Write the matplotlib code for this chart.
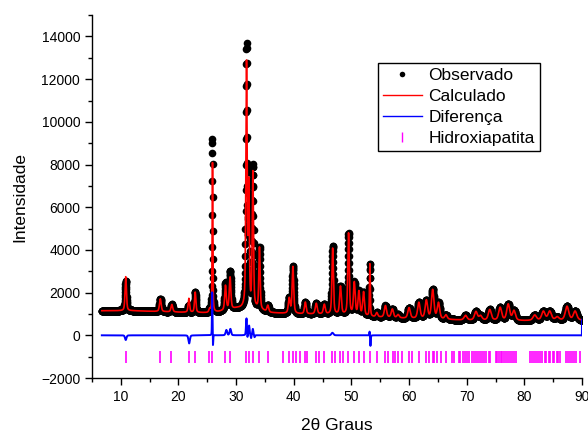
import matplotlib
matplotlib.use('Agg')
import matplotlib.pyplot as plt
from matplotlib.ticker import MultipleLocator
from matplotlib.lines import Line2D
import numpy as np

plt.rcParams['font.family'] = ['Liberation Sans', 'DejaVu Sans']

# 2theta range of the scan
x_start = 6.7
x_end = 90.0
x_step = 0.02

# background anchors (2theta, counts)
bg_x = [6.7, 12, 20, 25, 27, 30, 33, 36, 40, 45, 50, 54, 60, 66, 70, 80, 90]
bg_y = [1150, 1150, 1080, 1050, 1100, 1250, 1250, 1050, 1000, 980, 950, 850, 780, 740, 700, 680, 700]

# calculated peaks: position, height above background, fwhm
peak_pos = [10.85, 16.85, 18.85, 21.8, 22.9, 25.4, 25.9, 28.15, 28.95, 31.8, 32.2, 32.9,
            34.05, 35.5, 39.2, 39.85, 42.0, 43.9, 45.3, 46.75, 48.1, 49.5, 50.5, 51.3,
            52.1, 53.2, 54.4, 55.9, 57.1, 58.1, 60.0, 61.7, 63.0, 64.1, 65.1, 66.4,
            69.8, 71.6, 72.4, 74.0, 75.8, 77.2, 78.2, 81.8, 83.3, 84.4, 85.7, 87.4, 88.8]
peak_h = [1600, 600, 350, 650, 950, 150, 7000, 1150, 1500, 11400, 5500, 6300,
          2900, 300, 700, 2200, 550, 500, 450, 3100, 1300, 3800, 1500, 1100,
          1100, 2450, 200, 550, 400, 150, 500, 750, 850, 1350, 750, 200,
          220, 400, 200, 500, 600, 750, 450, 250, 420, 420, 150, 650, 420]
peak_w = [0.28, 0.35, 0.35, 0.3, 0.28, 0.3, 0.14, 0.32, 0.32, 0.26, 0.22, 0.26,
          0.26, 0.35, 0.35, 0.32, 0.35, 0.4, 0.4, 0.3, 0.35, 0.3, 0.35, 0.35,
          0.35, 0.16, 0.4, 0.45, 0.45, 0.45, 0.5, 0.5, 0.5, 0.5, 0.5, 0.5,
          0.6, 0.6, 0.6, 0.6, 0.6, 0.6, 0.6, 0.7, 0.7, 0.7, 0.7, 0.7, 0.7]

# misfit features seen in the difference curve: position, amplitude, width
diff_pos = [10.85, 21.85, 25.85, 25.98, 28.3, 29.0, 31.8, 31.95, 32.25, 32.6, 32.9, 33.2,
            46.7, 53.15, 53.3]
diff_amp = [-220, -380, 2100, -550, 250, 300, 800, -250, 450, -150, 300, -100,
            120, 200, -500]
diff_w = [0.3, 0.3, 0.1, 0.1, 0.3, 0.3, 0.2, 0.12, 0.2, 0.15, 0.2, 0.15,
          0.4, 0.1, 0.12]

# Bragg reflections of hydroxyapatite
hkl_pos = [10.82, 16.84, 18.78, 21.82, 22.90, 25.35, 25.88, 28.13, 28.97, 31.77, 32.20, 32.90,
           34.05, 35.48, 38.2, 39.2, 39.82, 40.45, 41.0, 42.03, 42.3, 43.8, 44.4, 45.3,
           46.71, 47.1, 48.1, 48.6, 49.47, 50.49, 51.28, 52.1, 53.14, 54.44, 55.88, 56.3,
           57.13, 57.6, 58.07, 58.8, 59.94, 60.46, 61.66, 63.01, 63.5, 64.08, 64.3, 64.93,
           65.5, 66.38, 67.5, 67.8, 68.6, 68.9, 69.3, 69.7, 70.0, 70.4, 70.9, 71.2,
           71.6, 72.0, 72.3, 72.7, 73.0, 73.4, 73.8, 74.1, 75.0, 75.3, 75.6, 75.9,
           76.2, 76.5, 76.8, 77.2, 77.5, 77.9, 78.2, 78.6, 81.0, 81.3, 81.7, 82.0,
           82.4, 82.8, 83.1, 83.5, 83.8, 84.2, 84.5, 84.9, 85.2, 85.6, 85.9, 86.2,
           87.3, 87.6, 87.9, 88.3, 88.6, 89.0, 89.6]
hkl_y = -1000


def pseudoVoigt(x, pos, h, w, eta=0.5):
    d = (x - pos) / (w / 2.0)
    lor = 1.0 / (1.0 + d ** 2)
    gau = np.exp(-np.log(2) * d ** 2)
    return h * (eta * lor + (1 - eta) * gau)


def buildPattern():
    x = np.arange(x_start, x_end + x_step / 2, x_step)
    calc = np.interp(x, bg_x, bg_y).astype(float)
    for p, h, w in zip(peak_pos, peak_h, peak_w):
        calc += pseudoVoigt(x, p, h, w)
    diff = np.zeros_like(x)
    for p, a, w in zip(diff_pos, diff_amp, diff_w):
        diff += pseudoVoigt(x, p, a, w, eta=0.3)
    obs = calc + diff
    # last point of the refinement output drops to zero
    calc[-1] = 0
    diff[-1] = obs[-1]
    return x, obs, calc, diff


def makeGraph():
    x, obs, calc, diff = buildPattern()
    fig = plt.figure(figsize=(5.88, 4.32), dpi=100)
    ax = fig.add_axes([0.1565, 0.125, 0.8333, 0.840])

    ax.plot(x, obs, 'o', color='black', ms=5.5, mew=0)
    ax.plot(x, calc, '-', color='#ff0000', lw=1.2)
    ax.plot(x, diff, '-', color='#0000ff', lw=1.4)
    ax.plot(hkl_pos, [hkl_y] * len(hkl_pos), '|', color='#ff00ff', ms=8, mew=1.2)

    ax.set_xlim(5, 90)
    ax.set_ylim(-2000, 15000)
    ax.xaxis.set_major_locator(MultipleLocator(10))
    ax.xaxis.set_minor_locator(MultipleLocator(5))
    ax.yaxis.set_major_locator(MultipleLocator(2000))
    ax.yaxis.set_minor_locator(MultipleLocator(1000))
    ax.tick_params(which='major', direction='out', length=5, width=1, labelsize=10)
    ax.tick_params(which='minor', direction='out', length=3, width=1)
    ax.spines['top'].set_visible(False)
    ax.spines['right'].set_visible(False)
    ax.spines['left'].set_linewidth(1)
    ax.spines['bottom'].set_linewidth(1)

    ax.set_xlabel('2θ Graus', fontsize=12.5, labelpad=10)
    ax.set_ylabel('Intensidade', fontsize=12.5)
    ax.yaxis.set_label_coords(-0.132, 0.5)

    handles = [
        Line2D([], [], ls='none', marker='o', color='black', ms=4, mew=0),
        Line2D([], [], color='#ff0000', lw=1),
        Line2D([], [], color='#0000ff', lw=1),
        Line2D([], [], ls='none', marker='|', color='#ff00ff', ms=7, mew=1),
    ]
    labels = ['Observado', 'Calculado', 'Diferença', 'Hidroxiapatita']
    leg = ax.legend(handles, labels, loc='upper left', bbox_to_anchor=(0.584, 0.868),
                    fontsize=12.5, fancybox=False, edgecolor='black', framealpha=1,
                    handlelength=2.2, handletextpad=0.4, borderpad=0.3,
                    labelspacing=0.33, borderaxespad=0)
    leg.get_frame().set_linewidth(1)

    fig.savefig('out.png', dpi=100)


if __name__ == '__main__':
    makeGraph()
